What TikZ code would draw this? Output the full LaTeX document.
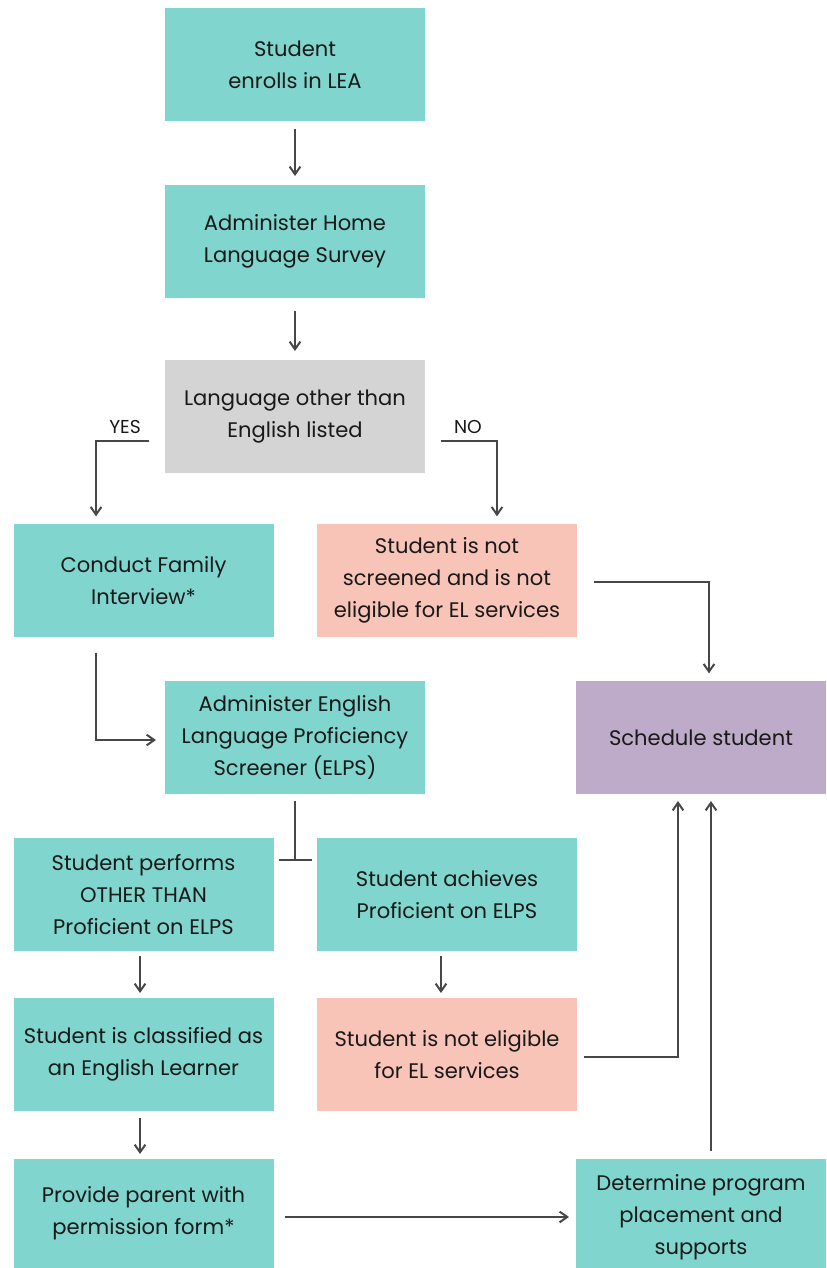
\documentclass[tikz,border=0pt]{standalone}
\usepackage{fontspec}
\setmainfont{Poppins}
\usetikzlibrary{arrows.meta}
\definecolor{tealbox}{HTML}{80D6CE}
\definecolor{greybox}{HTML}{D4D4D4}
\definecolor{salmonbox}{HTML}{F8C4B8}
\definecolor{lilacbox}{HTML}{BEABC9}
\definecolor{wire}{HTML}{474747}
\tikzset{
	every path/.style={line width=1.5pt},
	align=center,
	flow/.style={
		rectangle,
		inner sep=0pt,
		minimum width=195pt,
		minimum height=84.75pt,
		font=\fontsize{15.8}{24}\selectfont,
		text=black!90,
	},
	proc/.style={flow, fill=tealbox},
	query/.style={flow, fill=greybox},
	halt/.style={flow, fill=salmonbox},
	final/.style={flow, fill=lilacbox, minimum width=187.5pt},
	link/.style={draw=wire},
	arr/.style={
		draw=wire,
		-{Straight Barb[angle=70:7pt 0]}
	},
	answer/.style={font=\fontsize{14}{16}\selectfont, text=black!90},
}

\begin{document}
\begin{tikzpicture}[x=0.75pt, y=-0.75pt]
	\useasboundingbox (0,0) rectangle (826,1268);

	\node[proc]  (enroll) at (295,64.5)    {Student\\enrolls in LEA};
	\node[proc]  (hls)    at (295,241.5)   {Administer Home\\Language Survey};
	\node[query] (lang)   at (295,416.5)   {Language other than\\English listed};

	\node[proc]  (cfi)    at (143.5,580.5) {Conduct Family\\Interview*};
	\node[halt]  (notscr) at (447,580.5)   {Student is not\\screened and is not\\eligible for EL services};

	\node[proc]  (elps)   at (295,737.5)   {Administer English\\Language Proficiency\\Screener (ELPS)};
	\node[final] (sched)  at (701,737.5)   {Schedule student};

	\node[proc]  (perf)   at (143.5,894.5) {Student performs\\OTHER THAN\\Proficient on ELPS};
	\node[proc]  (achv)   at (447,894.5)   {Student achieves\\Proficient on ELPS};

	\node[proc]  (clas)   at (143.5,1054.5) {Student is classified as\\an English Learner};
	\node[halt]  (inelig) at (447,1054.5)   {Student is not eligible\\for EL services};

	\node[proc, minimum height=81.75pt] (parent) at (143.5,1213.5) {Provide parent with\\permission form*};
	\node[proc, minimum width=187.5pt, minimum height=87pt] (place) at (701,1217) {Determine program\\placement and\\supports};

	\node[answer] (yes) at (125,427) {YES};
	\node[answer] (no)  at (468,427) {NO};
	\coordinate (split) at (295,860);

	\draw[arr, shorten <=5pt, shorten >=6pt] (enroll) -- (hls);
	\draw[arr, shorten <=9pt, shorten >=6pt] (hls) -- (lang);

	\draw[arr, shorten <=11pt, shorten >=5pt] ([yshift=-18.4pt]lang.west) -| ([xshift=-35.6pt]cfi.north);
	\draw[arr, shorten <=11pt, shorten >=5pt] ([yshift=-18.4pt]lang.east) -| ([xshift=37.5pt]notscr.north);
	\draw[arr, shorten <=12pt, shorten >=5pt] ([yshift=-1.1pt]notscr.east) -| ([xshift=6pt]sched.north);

	\draw[arr, shorten <=11pt, shorten >=6pt] ([xshift=-35.6pt]cfi.south) |- ([yshift=-1.9pt]elps.west);

	\draw[link, shorten <=4.5pt] (elps.south) -- (split);
	\draw[link, shorten <=3pt, shorten >=3pt] (perf.east |- split) -- (achv.west |- split);

	\draw[arr, shorten <=3pt, shorten >=3pt] ([xshift=-2.6pt]perf.south) -- ([xshift=-2.6pt]clas.north);
	\draw[arr, shorten <=3pt, shorten >=3pt] ([xshift=-4.5pt]achv.south) -- ([xshift=-4.5pt]inelig.north);
	\draw[arr, shorten <=4.5pt, shorten >=3pt] ([xshift=-2.6pt]clas.south) -- ([xshift=-2.6pt]parent.north);

	\draw[arr, shorten <=7.5pt, shorten >=4.5pt] ([yshift=-2.6pt]parent.east) -- ([yshift=-2.6pt]place.west |- parent.east);
	\draw[arr, shorten <=4.5pt, shorten >=4.5pt] ([yshift=-1.9pt]inelig.east) -| ([xshift=-17.25pt]sched.south);
	\draw[arr, shorten <=5pt, shorten >=4.5pt] ([xshift=7.5pt]place.north) -- ([xshift=7.5pt]sched.south);
\end{tikzpicture}
\end{document}
